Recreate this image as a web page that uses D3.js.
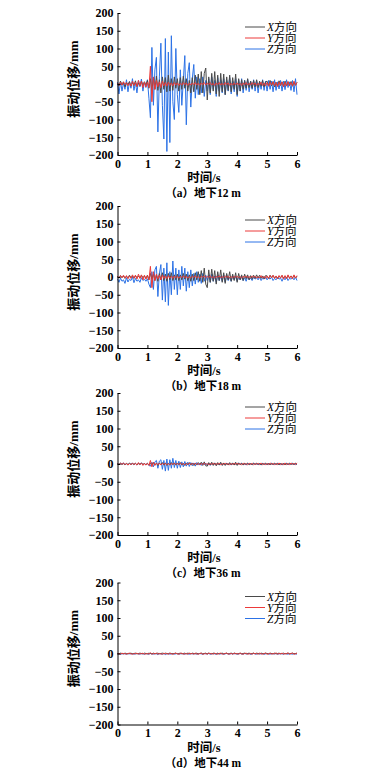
<!DOCTYPE html>
<meta charset="utf-8" />
<style>
  body { margin: 0; background: #fff; }
  text { font-family: "Liberation Serif", "Times New Roman", "Noto Sans CJK SC", serif; fill: #000; }
  .tick text { font-size: 12px; font-weight: bold; }
  .cjk { font-family: "Liberation Serif", "Noto Sans CJK SC", serif; }
</style>
<body>
<script src="https://cdnjs.cloudflare.com/ajax/libs/d3/7.8.5/d3.min.js"></script>
<script>
// sampling interval of every record below (s)
var timeStep = 0.05;

var captions = ["（a）地下12 m", "（b）地下18 m", "（c）地下36 m", "（d）地下44 m"];
var seriesNames = ["X", "Y", "Z"];
var xTicks = [0, 1, 2, 3, 4, 5, 6];
var yTicks = [-200, -150, -100, -50, 0, 50, 100, 150, 200];

// displacement records in mm, one value per sample
var xA = [3, -5, 8, -3, 6, -8, 4, -2, 7, -6, 5, -4, 9, -7, 3, -5, 8, -4, 6, -3,
  10, -12, 15, -20, 18, -15, 22, -18, 12, -25, 20, -15, 18, -22, 25, -20, 15, -18, 20, -12,
  15, -20, 18, -15, 22, -12, 15, -20, 10, -25, 18, -22, 25, -15, 28, -30, 35, -25, 30, 45,
  -45, 20, -25, 30, -20, 35, -28, 25, -35, 30, -22, 28, -30, 20, -18, 25, -22, 18, -15, 28,
  -30, 15, -20, 12, -15, 10, -12, 15, -10, 8, -12, 10, -8, 12, -10, 8, -6, 10, -8, 6,
  8, -6, 10, -5, 7, -8, 5, -6, 9, -4, 6, -7, 8, -5, 6, -4, 7, -6, 5, -3, 4];
var yA = [2, -4, 5, -3, 6, -2, 4, -5, 3, -6, 8, -4, 5, -7, 10, -5, 8, -10, 6, -8,
  5, -10, 50, -50, 20, -15, 10, -8, 6, -10, 8, -5, 4, -6, 5, -4, 3, -5, 4, -3,
  3, -4, 2, -3, 4, -2, 3, -4, 2, -3, 3, -2, 4, -3, 2, -4, 3, -2, 4, -3,
  3, -2, 4, -3, 2, -4, 3, -2, 4, -3, 2, -3, 4, -2, 3, -4, 2, -3, 3, -2,
  3, -3, 2, -4, 3, -2, 4, -3, 2, -3, 4, -2, 3, -4, 2, -3, 5, -4, 3, -5,
  4, -6, 5, -3, 6, -5, 4, -7, 5, -4, 6, -8, 5, -6, 7, -5, 4, -6, 8, -4, 5];
var zA = [5, -28, 8, -20, 3, -15, 12, -22, 6, -12, 15, -18, 4, -25, 10, -8, 14, -20, 6, -10,
  12, -40, -95, 103, -60, 40, 75, -135, 20, 115, -60, -155, 128, -190, 90, -165, 136, -50, -100, 100,
  -30, -80, 40, -60, 10, 80, -115, 30, 60, -65, 15, 55, -40, 20, -30, 15, -25, 20, -35, 10,
  -20, 15, -30, 20, -15, 10, -35, 18, -20, 12, -25, 15, -30, 10, -20, 18, -28, 8, -22, 15,
  -35, 12, -20, 15, -25, 10, -18, 14, -22, 8, -15, 12, -20, 10, -25, 6, -15, 12, -18, 8,
  -20, 10, -15, 8, -22, 12, -18, 6, -14, 10, -20, 8, -16, 12, -10, 6, -18, 10, -22, 15, -30];

var xB = [2, -3, 4, -2, 3, -4, 2, -3, 5, -2, 3, -4, 4, -2, 3, -3, 5, -2, 3, -4,
  5, -8, 10, -6, 8, -10, 6, -12, 10, -8, 12, -10, 8, -12, 10, -8, 12, -10, 6, -8,
  8, -10, 6, -8, 10, -6, 8, -10, 6, -12, 8, -10, 12, -8, 15, -12, 18, -15, 25, -20,
  -30, 20, -15, 22, -12, 18, -20, 15, -10, 20, -15, 12, -18, 10, -8, 15, -12, 8, -10, 12,
  -15, 10, -8, 6, -10, 8, -5, 6, -8, 4, -6, 5, -4, 6, -3, 5, -4, 3, -5, 4,
  3, -4, 5, -2, 4, -3, 2, -4, 3, -2, 4, -3, 2, -3, 4, -2, 3, -2, 4, -3, 2];
var yB = [2, -3, 4, -2, 5, -3, 4, -5, 3, -4, 6, -3, 5, -6, 8, -4, 6, -8, 5, -6,
  4, -8, 30, -30, 15, -10, 8, -6, 5, -8, 6, -4, 3, -5, 4, -3, 2, -4, 3, -2,
  2, -3, 2, -2, 3, -2, 2, -3, 1, -2, 2, -1, 3, -2, 1, -3, 2, -1, 3, -2,
  2, -1, 3, -2, 1, -3, 2, -1, 3, -2, 1, -2, 3, -1, 2, -3, 1, -2, 2, -1,
  2, -2, 1, -3, 2, -1, 3, -2, 1, -2, 3, -1, 2, -3, 1, -2, 4, -3, 2, -4,
  3, -4, 4, -2, 5, -4, 3, -5, 4, -3, 5, -6, 4, -5, 6, -4, 3, -5, 6, -3, 4];
var zB = [-5, -15, -3, -12, -8, -18, -2, -14, -6, -10, 0, -16, -4, -12, -8, -15, -2, -10, -6, -12,
  -5, -20, -30, 15, -35, 20, 30, -55, 10, 35, -65, 25, -70, 40, -80, 15, -50, 45, -35, 25,
  -50, 20, -35, 30, -25, 25, -40, 15, -30, 20, -25, 10, -20, 15, -15, 8, -18, 10, -12, 5,
  -10, 5, -15, 8, -12, 3, -15, 5, -10, 2, -12, 6, -14, 4, -10, 0, -12, 3, -8, 2,
  -12, 0, -8, 2, -10, -2, -12, 1, -8, -3, -10, 0, -6, -2, -8, 0, -10, -3, -6, 0,
  -8, -2, -6, 0, -10, -4, -8, -1, -6, -3, -12, -2, -8, 0, -10, -4, -6, -2, -8, 0, -10];

var xC = [1, -1, 2, -1, 1, -2, 1, -1, 2, -1, 1, -1, 2, -2, 1, -1, 2, -1, 1, -2,
  2, -3, 3, -2, 4, -3, 2, -4, 3, -2, 4, -3, 3, -4, 2, -3, 4, -2, 3, -3,
  3, -2, 4, -3, 2, -4, 3, -2, 4, -3, 3, -4, 2, -3, 4, -2, 5, -4, 6, -5,
  -6, 4, -3, 5, -4, 3, -5, 4, -3, 5, -4, 3, -4, 2, -3, 4, -2, 3, -3, 5,
  -4, 3, -2, 2, -3, 2, -1, 2, -2, 1, -2, 2, -1, 2, -1, 1, -2, 1, -1, 2,
  -1, 1, -2, 1, -1, 2, -1, 1, -2, 1, -1, 1, -2, 1, -1, 2, -1, 1, -1, 2, -1];
var yC = [1, -2, 2, -1, 3, -2, 2, -3, 1, -2, 3, -2, 2, -3, 4, -2, 3, -4, 2, -3,
  2, -4, 10, -8, 5, -4, 3, -2, 2, -3, 2, -1, 2, -2, 1, -2, 1, -1, 2, -1,
  1, -1, 2, -1, 1, -2, 1, -1, 2, -1, 1, -1, 2, -1, 1, -2, 1, -1, 2, -1,
  1, -2, 1, -1, 2, -1, 1, -1, 2, -2, 1, -1, 2, -1, 1, -2, 1, -1, 2, -1,
  2, -1, 1, -2, 2, -1, 1, -2, 2, -1, 2, -2, 1, -1, 2, -2, 3, -2, 2, -3,
  2, -2, 3, -1, 2, -3, 2, -2, 3, -2, 2, -3, 3, -2, 2, -3, 3, -1, 2, -2, 3];
var zC = [1, -2, 2, -1, 3, -2, 1, -3, 2, -1, 2, -2, 1, -3, 2, -1, 3, -2, 1, -2,
  2, -4, -6, 5, -8, 6, 10, -12, 8, 12, -15, 10, -20, 14, -18, 12, -12, 16, -10, 10,
  -12, 8, -10, 6, -8, 7, -6, 5, -7, 4, -5, 3, -6, 4, -3, 2, -4, 3, -2, 2,
  -3, 2, -4, 2, -2, 3, -3, 1, -2, 2, -3, 1, -2, 2, -1, 1, -3, 2, -1, 1,
  -2, 3, -1, 2, -2, 1, -3, 2, -1, 1, -2, 2, -1, 1, -2, 1, -3, 2, -1, 1,
  -2, 1, -1, 2, -2, 1, -1, 2, -2, 1, -3, 1, -1, 2, -2, 1, -1, 2, -2, 1, -2];

var xD = [0, -1, 1, 0, -1, 1, 0, -1, 0, 1, -1, 0, 1, -1, 0, 1, 0, -1, 1, 0,
  -1, 1, 0, -1, 1, -1, 0, 1, -1, 0, 1, -1, 1, 0, -1, 1, 0, -1, 0, 1,
  -1, 0, 1, -1, 0, 1, -1, 1, 0, -1, 1, 0, -1, 1, -1, 0, 1, -1, 0, 1,
  -1, 1, 0, -1, 1, 0, -1, 1, -1, 0, 1, -1, 0, 1, -1, 0, 1, -1, 1, 0,
  -1, 0, 1, -1, 0, 1, -1, 0, 1, -1, 0, 1, -1, 1, 0, -1, 1, 0, -1, 1,
  0, -1, 1, 0, -1, 1, -1, 0, 1, -1, 0, 1, -1, 0, 1, -1, 0, 1, -1, 0, 1];
var yD = [-1, 0, -2, 1, -1, 0, -2, 0, 1, -1, -2, 0, -1, 1, -2, 0, -1, 1, -2, -1,
  0, -2, 2, -2, 0, -1, 1, -2, 0, -1, -2, 1, -1, 0, -2, 1, -1, -2, 0, 1,
  -1, -2, 0, 1, -2, -1, 0, -2, 1, -1, 0, -2, 1, -1, -2, 0, 1, -2, -1, 0,
  -2, 1, -1, 0, -2, 1, -1, -2, 0, 1, -2, -1, 0, 1, -2, -1, 0, -2, 1, -1,
  0, -2, 1, -1, -2, 0, 1, -2, -1, 0, -2, 1, -1, 0, -2, 1, -1, -2, 0, 1,
  -2, -1, 1, -2, 0, -1, 2, -2, 0, -1, 1, -2, 0, -1, 2, -2, 0, 1, -2, -1, 1];
var zD = [-1, 0, -2, -1, 0, -1, -2, 0, -1, -1, 0, -2, -1, 0, -1, -2, 0, -1, -2, 0,
  -1, -2, 0, -1, -2, 0, -1, -3, 0, -1, -2, 0, -3, -1, 0, -2, -1, 0, -2, -1,
  0, -2, -1, 0, -1, -2, 0, -1, -2, 0, -1, -1, 0, -2, -1, 0, -1, -2, 0, -1,
  -1, 0, -2, -1, 0, -1, -2, 0, -1, -1, 0, -2, -1, 0, -1, -2, 0, -1, -1, 0,
  -2, -1, 0, -1, -2, 0, -1, -1, 0, -2, -1, 0, -1, -2, 0, -1, -1, 0, -2, -1,
  0, -1, -2, 0, -1, -1, 0, -2, -1, 0, -1, -2, 0, -1, -2, 0, -1, -2, 0, -1, -2];

var panelRecords = [[xA, yA, zA], [xB, yB, zB], [xC, yC, zC], [xD, yD, zD]];

// layout
var W = 376, H = 773;
var left = 117.5, right = 297;
var panelTops = [13, 206, 393, 582.5];
var plotH = 142;
var colors = { X: "#4a4a4a", Y: "#ec3a3a", Z: "#2c72e6" };
var drawOrder = [2, 0, 1]; // Z below, then X, Y on top

var svg = d3.select("body").append("svg")
  .attr("width", W)
  .attr("height", H);

var x = d3.scaleLinear().domain([0, 6]).range([left, right]);

panelRecords.forEach(function (records, p) {
  var top = panelTops[p], bottom = top + plotH;
  var y = d3.scaleLinear().domain([-200, 200]).range([bottom, top]);
  var g = svg.append("g");

  var line = d3.line()
    .x(function (d, i) { return x(i * timeStep); })
    .y(function (d) { return y(d); });

  drawOrder.forEach(function (s) {
    g.append("path")
      .datum(records[s])
      .attr("fill", "none")
      .attr("stroke", colors[seriesNames[s]])
      .attr("stroke-width", 1)
      .attr("stroke-linejoin", "round")
      .attr("d", line);
  });

  // axes with inward ticks
  var yAxis = g.append("g")
    .attr("transform", "translate(" + left + ",0)")
    .call(d3.axisLeft(y).tickValues(yTicks).tickFormat(d3.format("d"))
      .tickSizeInner(-3).tickSizeOuter(0).tickPadding(4));
  var xAxis = g.append("g")
    .attr("transform", "translate(0," + bottom + ")")
    .call(d3.axisBottom(x).tickValues(xTicks).tickFormat(d3.format("d"))
      .tickSizeInner(-3).tickSizeOuter(0).tickPadding(3));
  [yAxis, xAxis].forEach(function (a) {
    a.select(".domain").attr("stroke", "#000").attr("stroke-width", 1);
    a.selectAll(".tick line").attr("stroke", "#000");
    a.selectAll(".tick text").attr("fill", "#000").style("font-size", "12px");
  });
  yAxis.selectAll(".tick text").text(function (d) { return d < 0 ? "\u2212" + (-d) : d; });
  xAxis.selectAll(".tick text").attr("y", 4);

  // legend
  seriesNames.forEach(function (name, i) {
    var ly = top + 14 + i * 11;
    g.append("line")
      .attr("x1", 245).attr("x2", 265)
      .attr("y1", ly).attr("y2", ly)
      .attr("stroke", colors[name])
      .attr("stroke-width", 1);
    var t = g.append("text")
      .attr("x", 267)
      .attr("y", ly + 4)
      .style("font-size", "11.5px");
    t.append("tspan").style("font-style", "italic").text(name);
    t.append("tspan").attr("class", "cjk").text("方向");
  });

  // axis labels and caption
  g.append("text")
    .attr("class", "cjk")
    .attr("transform", "translate(" + 78 + "," + (top + 66) + ") rotate(-90)")
    .attr("text-anchor", "middle")
    .style("font-size", "13px")
    .style("font-weight", "bold")
    .text("振动位移/mm");

  g.append("text")
    .attr("class", "cjk")
    .attr("x", 204)
    .attr("y", bottom + 27)
    .attr("text-anchor", "middle")
    .style("font-size", "12.5px")
    .style("font-weight", "bold")
    .text("时间/s");

  g.append("text")
    .attr("class", "cjk")
    .attr("x", 203)
    .attr("y", bottom + 42)
    .attr("text-anchor", "middle")
    .style("font-size", "11.5px")
    .style("font-weight", "bold")
    .text(captions[p]);
});
</script>
</body>
